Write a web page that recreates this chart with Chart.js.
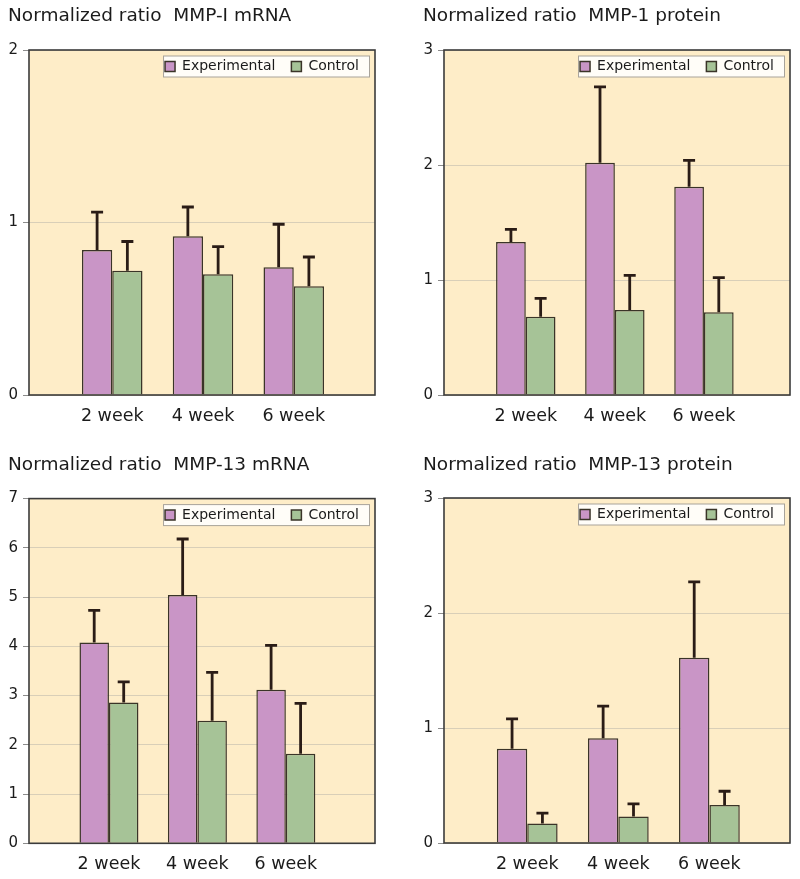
<!DOCTYPE html>
<html>
<head>
<meta charset="utf-8">
<script src="https://cdn.jsdelivr.net/npm/chart.js@4.4.1/dist/chart.umd.min.js"></script>
<style>
  body { margin: 0; background: #fff; }
  .panel { position: absolute; }
</style>
</head>
<body>
<div class="panel" style="left:0;top:0"><canvas id="c1" width="400" height="440"></canvas></div>
<div class="panel" style="left:400px;top:0"><canvas id="c2" width="400" height="440"></canvas></div>
<div class="panel" style="left:0;top:440px"><canvas id="c3" width="400" height="439"></canvas></div>
<div class="panel" style="left:400px;top:440px"><canvas id="c4" width="400" height="439"></canvas></div>
<script>
// ==================== DATA ====================
const weeks = ['2 week', '4 week', '6 week'];

// MMP-1 mRNA
const mmp1MrnaExp = [0.84, 0.92, 0.74];
const mmp1MrnaExpSd = [0.22, 0.17, 0.25];
const mmp1MrnaCtl = [0.72, 0.70, 0.63];
const mmp1MrnaCtlSd = [0.17, 0.16, 0.17];
const mmp1MrnaMax = 2;

// MMP-1 protein
const mmp1ProtExp = [1.33, 2.02, 1.81];
const mmp1ProtExpSd = [0.11, 0.66, 0.23];
const mmp1ProtCtl = [0.68, 0.74, 0.72];
const mmp1ProtCtlSd = [0.16, 0.30, 0.30];
const mmp1ProtMax = 3;

// MMP-13 mRNA
const mmp13MrnaExp = [4.08, 5.04, 3.12];
const mmp13MrnaExpSd = [0.65, 1.14, 0.90];
const mmp13MrnaCtl = [2.86, 2.49, 1.82];
const mmp13MrnaCtlSd = [0.42, 0.98, 1.02];
const mmp13MrnaMax = 7;

// MMP-13 protein
const mmp13ProtExp = [0.82, 0.91, 1.61];
const mmp13ProtExpSd = [0.26, 0.28, 0.66];
const mmp13ProtCtl = [0.17, 0.23, 0.33];
const mmp13ProtCtlSd = [0.09, 0.11, 0.12];
const mmp13ProtMax = 3;

// ==================== STYLE ====================
const FONT = '"DejaVu Sans", Arial, sans-serif';
const TEXT = '#1b1b1b';
const PURPLE = '#c995c6';
const GREEN = '#a6c397';
const EDGE = '#3a3428';
const CREAM = '#feedc8';

const panels = [
    { id: 'c1', title: 'Normalized ratio  MMP-I mRNA', exp: mmp1MrnaExp, expSd: mmp1MrnaExpSd, ctl: mmp1MrnaCtl, ctlSd: mmp1MrnaCtlSd, yMax: mmp1MrnaMax,
      padL: 8, padR: 25, padB: 13, titleTop: 5, titleBottom: 21.8, xMin: 0.083, xMax: 3.895 },
    { id: 'c2', title: 'Normalized ratio  MMP-1 protein', exp: mmp1ProtExp, expSd: mmp1ProtExpSd, ctl: mmp1ProtCtl, ctlSd: mmp1ProtCtlSd, yMax: mmp1ProtMax,
      padL: 23, padR: 10, padB: 13, titleTop: 5, titleBottom: 21.8, xMin: 0.082, xMax: 3.966 },
    { id: 'c3', title: 'Normalized ratio  MMP-13 mRNA', exp: mmp13MrnaExp, expSd: mmp13MrnaExpSd, ctl: mmp13MrnaCtl, ctlSd: mmp13MrnaCtlSd, yMax: mmp13MrnaMax,
      padL: 8, padR: 25, padB: 3.7, titleTop: 14, titleBottom: 21.4, xMin: 0.096, xMax: 4.008 },
    { id: 'c4', title: 'Normalized ratio  MMP-13 protein', exp: mmp13ProtExp, expSd: mmp13ProtExpSd, ctl: mmp13ProtCtl, ctlSd: mmp13ProtCtlSd, yMax: mmp13ProtMax,
      padL: 23, padR: 10, padB: 4, titleTop: 14, titleBottom: 20.8, xMin: 0.086, xMax: 3.885 }
];

// cream plot background + white legend box
const plotBackground = {
    id: 'plotBackground',
    afterLayout(chart) {
        // legend is laid out on top (1px tall), then moved inside the plot
        const lg = chart.legend;
        lg.top = chart.chartArea.top - 6.5;
        lg.bottom = lg.top + 50;
        lg.height = 50;
    },
    beforeDraw(chart) {
        const { ctx, chartArea: a, legend } = chart;
        ctx.save();
        ctx.fillStyle = CREAM;
        ctx.fillRect(a.left, a.top, a.right - a.left, a.bottom - a.top);
        const hb = legend.legendHitBoxes;
        if (hb && hb.length) {
            const pad = legend.options.labels.padding;
            const cy = legend.top + pad + 7;
            const x1 = hb[0].left - 2;
            const x2 = hb[hb.length - 1].left + hb[hb.length - 1].width + 10;
            ctx.fillStyle = '#fffdf8';
            ctx.fillRect(x1, cy - 10.5, x2 - x1, 21);
            ctx.strokeStyle = '#a8a39a';
            ctx.lineWidth = 1;
            ctx.strokeRect(x1 + 0.5, cy - 10.5, x2 - x1, 21);
        }
        ctx.restore();
    }
};

// one-sided error bars (mean + SD)
const errorBars = {
    id: 'errorBars',
    afterDatasetsDraw(chart) {
        const { ctx } = chart;
        const y = chart.scales.y;
        ctx.save();
        ctx.strokeStyle = '#2a1c16';
        ctx.lineWidth = 2.8;
        chart.data.datasets.forEach((ds, i) => {
            chart.getDatasetMeta(i).data.forEach((bar, j) => {
                const top = y.getPixelForValue(ds.data[j].y + ds.errors[j]);
                ctx.beginPath();
                ctx.moveTo(bar.x, bar.y);
                ctx.lineTo(bar.x, top);
                ctx.moveTo(bar.x - 6, top);
                ctx.lineTo(bar.x + 6, top);
                ctx.stroke();
            });
        });
        ctx.restore();
    }
};

// dark frame round the plot
const plotFrame = {
    id: 'plotFrame',
    afterDraw(chart) {
        const { ctx, chartArea: a } = chart;
        ctx.save();
        ctx.strokeStyle = '#3b3b3b';
        ctx.lineWidth = 1.6;
        ctx.strokeRect(a.left, a.top, a.right - a.left, a.bottom - a.top);
        ctx.restore();
    }
};

window.drawPanel = function(p) {
    const ctx = document.getElementById(p.id).getContext('2d');
    return new Chart(ctx, {
        type: 'bar',
        data: {
            datasets: [
                { label: 'Experimental', data: p.exp.map((v, i) => ({ x: i + 1, y: v })), errors: p.expSd,
                  backgroundColor: PURPLE, borderColor: EDGE, borderWidth: 1.5, categoryPercentage: 0.667, barPercentage: 1 },
                { label: 'Control', data: p.ctl.map((v, i) => ({ x: i + 1, y: v })), errors: p.ctlSd,
                  backgroundColor: GREEN, borderColor: EDGE, borderWidth: 1.5, categoryPercentage: 0.667, barPercentage: 1 }
            ]
        },
        options: {
            responsive: false,
            animation: false,
            devicePixelRatio: 1,
            layout: { padding: { left: p.padL, right: p.padR, top: 0, bottom: p.padB } },
            plugins: {
                title: { display: true, text: p.title, align: 'start', color: TEXT,
                         font: { family: FONT, size: 18.5, weight: 'normal' },
                         padding: { top: p.titleTop, bottom: p.titleBottom } },
                legend: { position: 'top', align: 'end', maxHeight: 1,
                          labels: { boxWidth: 10, boxHeight: 10, padding: 16, color: TEXT, font: { family: FONT, size: 14 } } },
                tooltip: { enabled: false }
            },
            scales: {
                x: {
                    type: 'linear', min: p.xMin, max: p.xMax, bounds: 'data', offset: false,
                    grid: { display: false }, border: { display: false },
                    afterBuildTicks: s => { s.ticks = weeks.map((w, i) => ({ value: i + 1 })); },
                    afterFit: s => { s.height = 32; },
                    ticks: { callback: v => weeks[v - 1], autoSkip: false, maxRotation: 0, padding: 3,
                             color: TEXT, font: { family: FONT, size: 17.5 } }
                },
                y: {
                    min: 0, max: p.yMax,
                    afterFit: s => { s.width = 21; },
                    grid: { color: '#d9cfb8', tickColor: '#8c8c8c', tickLength: 6 },
                    border: { display: false },
                    ticks: { stepSize: 1, padding: 5, color: TEXT, font: { family: FONT, size: 15 } }
                }
            }
        },
        plugins: [plotBackground, errorBars, plotFrame]
    });
};

panels.forEach(p => window.drawPanel(p));
</script>
</body>
</html>
